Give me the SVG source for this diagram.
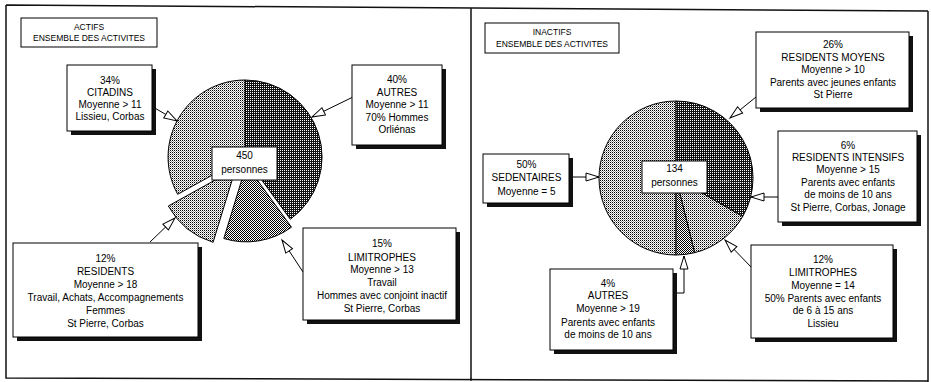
<svg xmlns="http://www.w3.org/2000/svg" width="931" height="382" viewBox="0 0 931 382">
<style>
.frame{stroke:#111;stroke-width:1.5;fill:none}
.box{fill:#fff;stroke:#000;stroke-width:1}
.shadow{fill:#111}
.t{font-family:"Liberation Sans",Arial,sans-serif;font-size:10px;fill:#000;text-anchor:middle}
.tt{font-family:"Liberation Sans",Arial,sans-serif;font-size:8.5px;fill:#000;text-anchor:middle}
.slice{stroke:#000;stroke-width:1}
.conn{stroke:#000;stroke-width:1;fill:none;marker-end:url(#arrow)}
</style>
<defs>
<pattern id="pDark" width="2" height="2" patternUnits="userSpaceOnUse">
<rect width="2" height="2" fill="#111"/><rect x="0" y="0" width="1" height="1" fill="#fff"/>
</pattern>
<pattern id="pMid" width="2" height="2" patternUnits="userSpaceOnUse">
<rect width="2" height="2" fill="#fff"/><rect x="0" y="0" width="1" height="1" fill="#000"/><rect x="1" y="1" width="1" height="1" fill="#000"/>
</pattern>
<pattern id="pLight" width="2" height="2" patternUnits="userSpaceOnUse">
<rect width="2" height="2" fill="#fff"/><rect x="0" y="0" width="1" height="1" fill="#000"/><rect x="1" y="1" width="1" height="1" fill="#999"/>
</pattern>
<marker id="arrow" viewBox="-1 -1 15 10" markerWidth="15" markerHeight="10" refX="13" refY="4" orient="auto" markerUnits="userSpaceOnUse" overflow="visible">
<path d="M0,0 L13,4 L0,8 Z" fill="#fff" stroke="#000" stroke-width="1"/>
</marker>
</defs>

<g id="frame">
<path class="frame" d="M6,5 L928,11 M6,5 L6,378 L928,381 M471,8 L471,381 M928,11 L928,382"/>
</g>

<!-- LEFT PANEL -->
<g id="title-actifs">
<rect class="box" x="21" y="18" width="136" height="29"/>
<text class="tt" x="89" y="30">ACTIFS</text>
<text class="tt" x="89" y="41">ENSEMBLE DES ACTIVITES</text>
</g>

<g id="pie-actifs">
<path class="slice" fill="url(#pDark)" d="M245,157 L245,80 A77,77 0 0 1 290.3,219.3 Z"/>
<path class="slice" fill="url(#pLight)" d="M245,157 L177.7,194.3 A77,77 0 0 1 245,80 Z"/>
<path class="slice" fill="url(#pMid)" d="M246.3,164.9 L291.5,227.2 A77,77 0 0 1 223.8,238.5 Z"/>
<path class="slice" fill="url(#pLight)" d="M235.6,168.7 L213.1,242.3 A77,77 0 0 1 168.3,206 Z"/>
</g>

<g id="total-actifs">
<rect class="box" x="212" y="147" width="65" height="33"/>
<text class="t" x="244.5" y="159">450</text>
<text class="t" x="244.5" y="173">personnes</text>
</g>

<g id="connectors">
<path class="conn" d="M153,107 L177,121"/>
<path class="conn" d="M353,97 L312,117"/>
<path class="conn" d="M150,242 L175,218"/>
<path class="conn" d="M303,272 L282,240"/>
<path class="conn" d="M756,97 L730,118"/>
<path class="conn" d="M778,197 L751,197"/>
<path class="conn" d="M569,177 L599,177"/>
<path class="conn" d="M752,268 L725,240"/>
<path class="conn" d="M673,293 L684,293 L684,256"/>
</g>

<g id="citadins">
<rect class="shadow" x="71" y="69" width="85" height="66"/>
<rect class="box" x="67" y="65" width="85" height="66"/>
<text class="t" x="110" y="84">34%</text>
<text class="t" x="110" y="96">CITADINS</text>
<text class="t" x="110" y="108">Moyenne &gt; 11</text>
<text class="t" x="110" y="120">Lissieu, Corbas</text>
</g>

<g id="autres-actifs">
<rect class="shadow" x="356" y="69" width="90" height="80"/>
<rect class="box" x="352" y="65" width="90" height="80"/>
<text class="t" x="397" y="83">40%</text>
<text class="t" x="397" y="95.5">AUTRES</text>
<text class="t" x="397" y="108">Moyenne &gt; 11</text>
<text class="t" x="397" y="120.5">70% Hommes</text>
<text class="t" x="397" y="133">Orliénas</text>
</g>

<g id="residents">
<rect class="shadow" x="17" y="247" width="185" height="94"/>
<rect class="box" x="13" y="243" width="185" height="94"/>
<text class="t" x="105.5" y="262">12%</text>
<text class="t" x="105.5" y="275">RESIDENTS</text>
<text class="t" x="105.5" y="288">Moyenne &gt; 18</text>
<text class="t" x="105.5" y="301">Travail, Achats, Accompagnements</text>
<text class="t" x="105.5" y="313.5">Femmes</text>
<text class="t" x="105.5" y="326.5">St Pierre, Corbas</text>
</g>

<g id="limitrophes-actifs">
<rect class="shadow" x="307" y="232" width="153" height="92"/>
<rect class="box" x="303" y="228" width="153" height="92"/>
<text class="t" x="382" y="247">15%</text>
<text class="t" x="382" y="260.5">LIMITROPHES</text>
<text class="t" x="382" y="273">Moyenne &gt; 13</text>
<text class="t" x="382" y="285.5">Travail</text>
<text class="t" x="382" y="298.5">Hommes avec conjoint inactif</text>
<text class="t" x="382" y="311.5">St Pierre, Corbas</text>
</g>

<!-- RIGHT PANEL -->
<g id="title-inactifs">
<rect class="box" x="485" y="23" width="134" height="30"/>
<text class="tt" x="552" y="35">INACTIFS</text>
<text class="tt" x="552" y="47">ENSEMBLE DES ACTIVITES</text>
</g>

<g id="pie-inactifs">
<path class="slice" fill="url(#pLight)" d="M676,178 L676,255 A77,77 0 1 1 676,101 Z"/>
<path fill="url(#pDark)" d="M676,178 L676,101 A77,77 0 0 1 752.8,183.4 Z"/>
<path fill="url(#pDark)" d="M676,178 L752.8,183.4 A77,77 0 0 1 742.7,216.5 Z"/>
<path class="slice" fill="none" d="M676,178 L676,101 A77,77 0 0 1 742.7,216.5 Z"/>
<path class="slice" fill="url(#pLight)" d="M676,178 L742.7,216.5 A77,77 0 0 1 694.6,252.7 Z"/>
<path class="slice" fill="url(#pMid)" d="M676,178 L694.6,252.7 A77,77 0 0 1 676,255 Z"/>
</g>

<g id="total-inactifs">
<rect class="box" x="642" y="161" width="65" height="32"/>
<text class="t" x="674.5" y="172">134</text>
<text class="t" x="674.5" y="186">personnes</text>
</g>

<g id="residents-moyens">
<rect class="shadow" x="760" y="36" width="153" height="76"/>
<rect class="box" x="756" y="32" width="153" height="76"/>
<text class="t" x="833" y="47.5">26%</text>
<text class="t" x="833" y="60.5">RESIDENTS MOYENS</text>
<text class="t" x="833" y="73">Moyenne &gt; 10</text>
<text class="t" x="833" y="85.5">Parents avec jeunes enfants</text>
<text class="t" x="833" y="98">St Pierre</text>
</g>

<g id="residents-intensifs">
<rect class="shadow" x="782" y="135" width="139" height="91"/>
<rect class="box" x="778" y="131" width="139" height="91"/>
<text class="t" x="848" y="148.5">6%</text>
<text class="t" x="848" y="161">RESIDENTS INTENSIFS</text>
<text class="t" x="848" y="173">Moyenne &gt; 15</text>
<text class="t" x="848" y="185.5">Parents avec enfants</text>
<text class="t" x="848" y="197.5">de moins de 10 ans</text>
<text class="t" x="848" y="210.5">St Pierre, Corbas, Jonage</text>
</g>

<g id="sedentaires">
<rect class="shadow" x="487" y="158" width="86" height="49"/>
<rect class="box" x="483" y="154" width="86" height="49"/>
<text class="t" x="526.5" y="168">50%</text>
<text class="t" x="526.5" y="181">SEDENTAIRES</text>
<text class="t" x="526.5" y="195">Moyenne = 5</text>
</g>

<g id="limitrophes-inactifs">
<rect class="shadow" x="755" y="249" width="142" height="93"/>
<rect class="box" x="751" y="245" width="142" height="93"/>
<text class="t" x="823" y="262.5">12%</text>
<text class="t" x="823" y="275.5">LIMITROPHES</text>
<text class="t" x="823" y="288.5">Moyenne = 14</text>
<text class="t" x="823" y="301.5">50% Parents avec enfants</text>
<text class="t" x="823" y="313.5">de 6 à 15 ans</text>
<text class="t" x="823" y="326.5">Lissieu</text>
</g>

<g id="autres-inactifs">
<rect class="shadow" x="554" y="273" width="123" height="81"/>
<rect class="box" x="550" y="269" width="123" height="81"/>
<text class="t" x="608" y="286.5">4%</text>
<text class="t" x="608" y="298.5">AUTRES</text>
<text class="t" x="608" y="311.5">Moyenne &gt; 19</text>
<text class="t" x="608" y="325.5">Parents avec enfants</text>
<text class="t" x="608" y="337.5">de moins de 10 ans</text>
</g>
</svg>
